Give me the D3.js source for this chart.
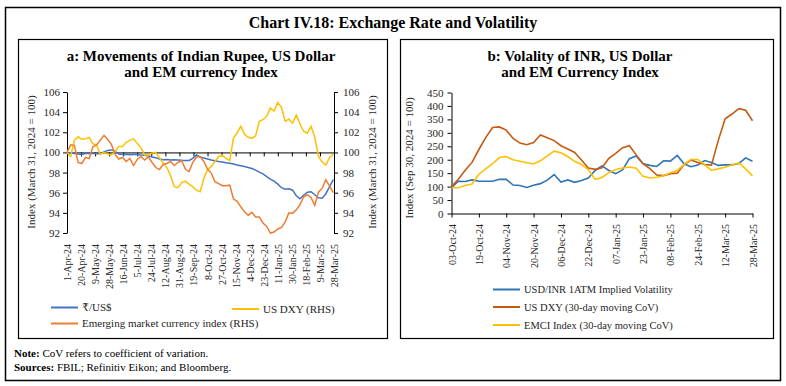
<!DOCTYPE html>
<html>
<head>
<meta charset="utf-8">
<script src="https://cdn.jsdelivr.net/npm/d3@7"></script>
<style>
  body { margin: 0; background: #fff; }
  svg text { font-family: "Liberation Serif", "DejaVu Serif", serif; }
</style>
</head>
<body>
<div id="chart"></div>
<script>
// ---- Panel a: 5-day samples from 1-Apr-24
const aStart = '2024-04-01';
const aStep = 5;
const rupeeUsd = [
  100.0, 99.95, 99.9, 99.85, 99.8, 99.9, 99.93, 99.9, 99.88, 99.9,
  100.05, 100.2, 100.25, 100.1, 99.85, 99.8, 99.82, 99.78, 99.8, 99.8,
  99.75, 99.72, 99.65, 99.55, 99.48, 99.35, 99.27, 99.3, 99.25, 99.28,
  99.25, 99.22, 99.2, 99.2, 99.4, 99.75, 99.55, 99.45, 99.35, 99.25,
  99.18, 99.1, 99.05, 98.98, 98.93, 98.85, 98.75, 98.68, 98.6, 98.5,
  98.4, 98.25, 98.05, 97.87, 97.6, 97.35, 97.15, 96.85, 96.5, 96.35,
  96.4, 96.25, 95.7, 95.4, 95.75, 96.05, 96.1, 95.8, 95.5, 95.45,
  95.9, 96.6, 97.3
];
const usDxy = [
  100.0, 99.6, 101.2, 101.55, 101.3, 101.35, 101.5, 100.85, 100.75, 99.8,
  100.0, 99.85, 99.75, 100.1, 100.6, 100.6, 101.0, 101.2, 101.35, 100.9,
  100.45, 99.75, 99.75, 99.95, 100.0, 99.45, 98.95, 98.5, 97.7, 96.6,
  96.5, 97.0, 97.15, 96.85, 96.6, 96.25, 96.1, 97.4, 98.3, 98.6,
  99.1, 99.6, 99.7, 99.4, 99.2, 101.4, 101.95, 102.6, 101.8, 101.5,
  101.4, 101.65, 103.1, 103.25, 103.6, 104.4, 104.1, 104.95, 104.45, 103.1,
  103.3, 102.9, 103.7, 102.85, 102.1, 101.9, 102.6, 101.5, 99.6, 99.05,
  98.75, 99.5, 99.85
];
const emIndex = [
  100.0, 100.75, 100.7, 99.0, 98.9, 99.5, 99.4, 100.55, 100.75, 101.2,
  101.7, 101.3, 100.8, 99.8, 99.35, 99.5, 99.1, 99.4, 98.7, 99.3,
  99.6, 99.25, 99.55, 99.0, 98.5, 98.3, 98.8, 98.9, 99.1, 98.7,
  99.0, 99.2, 98.35, 98.1, 99.0, 99.55, 99.6, 99.1, 98.35, 97.95,
  97.1, 96.9, 96.7, 96.7, 96.75, 95.4, 95.15, 94.6, 94.1, 93.75,
  94.05, 93.6, 93.6, 93.0, 92.65, 92.0, 92.1, 92.4, 92.55, 93.1,
  94.0, 93.95, 94.3, 94.8, 95.6, 95.8, 95.5, 94.75, 96.05, 96.45,
  97.3, 96.65, 96.0
];
const aTicks = ['1-Apr-24', '20-Apr-24', '9-May-24', '28-May-24', '16-Jun-24', '5-Jul-24',
  '24-Jul-24', '12-Aug-24', '31-Aug-24', '19-Sep-24', '8-Oct-24', '27-Oct-24', '15-Nov-24',
  '4-Dec-24', '23-Dec-24', '11-Jan-25', '30-Jan-25', '18-Feb-25', '9-Mar-25', '28-Mar-25'];
const aYTicks = [92, 94, 96, 98, 100, 102, 104, 106];

// ---- Panel b: 4-day samples from 03-Oct-24
const bStart = '2024-10-03';
const bStep = 4;
const inrVol = [
  96, 120, 119, 125, 120, 120, 120, 127, 127, 106,
  104, 97, 105, 111, 124, 145, 117, 125, 116, 123,
  132, 160, 177, 160, 148, 162, 204, 214, 185, 179,
  175, 196, 195, 216, 185, 174, 180, 197, 190, 179,
  181, 181, 186, 207, 194
];
const dxyCov = [
  100, 127, 161, 190, 238, 282, 320, 322, 310, 279,
  262, 256, 264, 292, 282, 271, 252, 240, 227, 199,
  169, 164, 170, 205, 224, 245, 252, 218, 185, 167,
  143, 141, 148, 150, 182, 199, 190, 182, 180, 272,
  352, 370, 390, 384, 345
];
const emciCov = [
  96, 96, 104, 110, 146, 166, 185, 208, 212, 200,
  194, 189, 184, 196, 214, 232, 226, 212, 194, 182,
  163, 127, 134, 152, 164, 169, 173, 168, 138, 132,
  135, 140, 152, 160, 183, 201, 201, 181, 160, 166,
  172, 180, 188, 166, 140
];
const bTicks = ['03-Oct-24', '19-Oct-24', '04-Nov-24', '20-Nov-24', '06-Dec-24', '22-Dec-24',
  '07-Jan-25', '23-Jan-25', '08-Feb-25', '24-Feb-25', '12-Mar-25', '28-Mar-25'];
const bYTicks = [0, 50, 100, 150, 200, 250, 300, 350, 400, 450];

const parseIso = d3.timeParse('%Y-%m-%d');
const parseTick = d3.timeParse('%d-%b-%y');

const svg = d3.select('#chart').append('svg')
  .attr('width', 786)
  .attr('height', 386);

// Frames
svg.append('rect').attr('x', 5.5).attr('y', 7.5).attr('width', 775).attr('height', 373)
  .attr('fill', 'none').attr('stroke', '#000').attr('stroke-width', 1.5);
svg.append('rect').attr('x', 18.5).attr('y', 39.5).attr('width', 369).attr('height', 299)
  .attr('fill', 'none').attr('stroke', '#000').attr('stroke-width', 1.2);
svg.append('rect').attr('x', 400.5).attr('y', 39.5).attr('width', 373).attr('height', 299)
  .attr('fill', 'none').attr('stroke', '#000').attr('stroke-width', 1.2);

// Main title
svg.append('text')
  .attr('x', 393).attr('y', 28)
  .attr('text-anchor', 'middle')
  .style('font-size', '16px').style('font-weight', 'bold')
  .text('Chart IV.18: Exchange Rate and Volatility');

function panelTitle(cx, lines) {
  lines.forEach((t, i) => {
    svg.append('text')
      .attr('x', cx).attr('y', 61 + i * 15.5)
      .attr('text-anchor', 'middle')
      .style('font-size', '15px').style('font-weight', 'bold')
      .text(t);
  });
}

function styleAxis(g, size) {
  g.selectAll('.domain, .tick line').attr('stroke', '#000');
  g.selectAll('text').attr('fill', '#262626').style('font-size', size)
    .style('font-family', '"Liberation Serif", "DejaVu Serif", serif');
}

function xLabels(g, x, ticks, yTop) {
  const ax = g.append('g')
    .attr('transform', `translate(0,${yTop})`)
    .call(d3.axisBottom(x).tickValues(ticks.map(parseTick)).tickSize(0)
      .tickFormat((d, i) => ticks[i]));
  ax.select('.domain').remove();
  ax.selectAll('text')
    .attr('transform', 'rotate(-90)')
    .attr('text-anchor', 'end')
    .attr('x', 0).attr('y', 0).attr('dy', '0.35em');
  styleAxis(ax, '10px');
}

function legendItem(x, y, color, label, size) {
  svg.append('line')
    .attr('x1', x).attr('x2', x + 27).attr('y1', y).attr('y2', y)
    .attr('stroke', color).attr('stroke-width', 2);
  svg.append('text')
    .attr('x', x + 31).attr('y', y + 3.5)
    .attr('fill', '#262626')
    .style('font-size', size)
    .text(label);
}

// ================= Panel a =================
panelTitle(201, ['a: Movements of Indian Rupee, US Dollar', 'and EM currency Index']);

const aDates = rupeeUsd.map((v, i) => d3.timeDay.offset(parseIso(aStart), i * aStep));
const xa = d3.scaleTime()
  .domain([parseTick(aTicks[0]), parseTick(aTicks[aTicks.length - 1])])
  .range([67, 334]);
const ya = d3.scaleLinear().domain([92, 106]).range([233, 92]);
const yaR = d3.scaleLinear().domain([92, 106]).range([233, 92]);

const gaL = svg.append('g').attr('transform', 'translate(67,0)')
  .call(d3.axisLeft(ya).tickValues(aYTicks).tickSize(4).tickSizeOuter(0).tickPadding(3));
styleAxis(gaL, '11px');
const gaR = svg.append('g').attr('transform', 'translate(334,0)')
  .call(d3.axisRight(yaR).tickValues(aYTicks).tickSize(4).tickSizeOuter(0).tickPadding(5));
styleAxis(gaR, '11px');

const gaX = svg.append('g').attr('transform', `translate(0,${ya(100)})`)
  .call(d3.axisBottom(xa).tickValues(aTicks.map(parseTick)).tickSize(4).tickSizeOuter(0)
    .tickFormat(''));
styleAxis(gaX, '10px');
xLabels(svg, xa, aTicks, 244);

svg.append('text')
  .attr('transform', `translate(35,${162}) rotate(-90)`)
  .attr('text-anchor', 'middle').attr('fill', '#262626')
  .style('font-size', '11px')
  .text('Index (March 31, 2024 = 100)');
svg.append('text')
  .attr('transform', `translate(376,${162}) rotate(-90)`)
  .attr('text-anchor', 'middle').attr('fill', '#262626')
  .style('font-size', '11px')
  .text('Index (March 31, 2024 = 100)');

const lineA = (yScale) => d3.line().x((d, i) => xa(aDates[i])).y(d => yScale(d));
svg.append('path').datum(rupeeUsd)
  .attr('fill', 'none').attr('stroke', '#4472C4').attr('stroke-width', 1.5)
  .attr('d', lineA(ya));
svg.append('path').datum(usDxy)
  .attr('fill', 'none').attr('stroke', '#FFC000').attr('stroke-width', 1.5)
  .attr('d', lineA(yaR));
svg.append('path').datum(emIndex)
  .attr('fill', 'none').attr('stroke', '#ED7D31').attr('stroke-width', 1.5)
  .attr('d', lineA(yaR));

legendItem(51, 307.5, '#4472C4', '₹/US$', '11px');
legendItem(232, 309, '#FFC000', 'US DXY (RHS)', '11px');
legendItem(51, 323.5, '#ED7D31', 'Emerging market currency index (RHS)', '11px');

// ================= Panel b =================
panelTitle(580, ['b: Volality of INR, US Dollar', 'and EM Currency Index']);

const bDates = inrVol.map((v, i) => d3.timeDay.offset(parseIso(bStart), i * bStep));
const xb = d3.scaleTime()
  .domain([parseTick(bTicks[0]), parseTick(bTicks[bTicks.length - 1])])
  .range([451.5, 752.5]);
const yb = d3.scaleLinear().domain([0, 450]).range([213.5, 92.5]);

const gbL = svg.append('g').attr('transform', 'translate(451.5,0)')
  .call(d3.axisLeft(yb).tickValues(bYTicks).tickSize(4).tickSizeOuter(0).tickPadding(4));
styleAxis(gbL, '11px');
const gbX = svg.append('g').attr('transform', `translate(0,${yb(0)})`)
  .call(d3.axisBottom(xb).tickValues(bTicks.map(parseTick)).tickSize(4).tickSizeOuter(0)
    .tickFormat(''));
styleAxis(gbX, '10px');
xLabels(svg, xb, bTicks, 224);

svg.append('text')
  .attr('transform', `translate(413,${158}) rotate(-90)`)
  .attr('text-anchor', 'middle').attr('fill', '#262626')
  .style('font-size', '11px')
  .text('Index (Sep 30, 2024 = 100)');

const lineB = d3.line().x((d, i) => xb(bDates[i])).y(d => yb(d));
svg.append('path').datum(inrVol)
  .attr('fill', 'none').attr('stroke', '#2E75B6').attr('stroke-width', 1.6)
  .attr('d', lineB);
svg.append('path').datum(dxyCov)
  .attr('fill', 'none').attr('stroke', '#C55A11').attr('stroke-width', 1.6)
  .attr('d', lineB);
svg.append('path').datum(emciCov)
  .attr('fill', 'none').attr('stroke', '#FFC000').attr('stroke-width', 1.6)
  .attr('d', lineB);

legendItem(493, 289.5, '#2E75B6', 'USD/INR 1ATM Implied Volatility', '10.5px');
legendItem(493, 307, '#C55A11', 'US DXY (30-day moving CoV)', '10.5px');
legendItem(493, 325, '#FFC000', 'EMCI Index (30-day moving CoV)', '10.5px');

// ================= Notes =================
const note = svg.append('text').attr('x', 14).attr('y', 357).style('font-size', '11px');
note.append('tspan').style('font-weight', 'bold').text('Note: ');
note.append('tspan').text('CoV refers to coefficient of variation.');
const src = svg.append('text').attr('x', 14).attr('y', 371).style('font-size', '11px');
src.append('tspan').style('font-weight', 'bold').text('Sources: ');
src.append('tspan').text('FBIL; Refinitiv Eikon; and Bloomberg.');
</script>
</body>
</html>
